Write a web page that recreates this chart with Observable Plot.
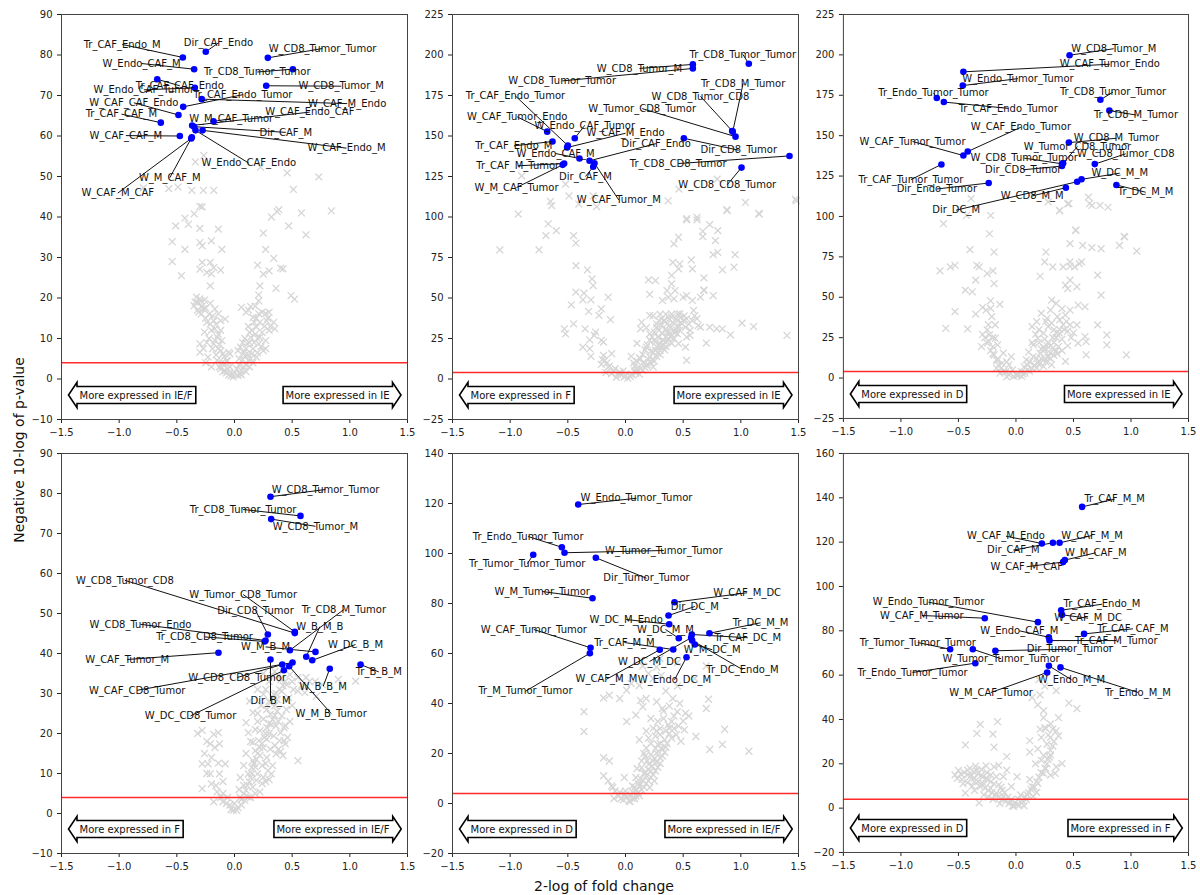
<!DOCTYPE html>
<html><head><meta charset="utf-8">
<script src="https://cdn.jsdelivr.net/npm/d3@7"></script>
<script src="https://cdn.jsdelivr.net/npm/@observablehq/plot@0.6"></script>
<style>
body{margin:0;background:#fff;font-family:"DejaVu Sans",sans-serif;}
#fig{position:relative;width:1200px;height:895px;overflow:hidden;background:#fff;}
.panel{position:absolute;}
.panel svg{overflow:visible;}
#ylab{position:absolute;left:19px;top:450px;transform:translate(-50%,-50%) rotate(-90deg);font-size:14px;white-space:nowrap;color:#111;}
#xlab{position:absolute;left:604px;top:886px;transform:translate(-50%,-50%);font-size:14px;white-space:nowrap;color:#111;}
</style></head>
<body><div id="fig"><div id="ylab">Negative 10-log of p-value</div><div id="xlab">2-log of fold change</div></div>
<script>
// ---------- data ----------
const xTickValues = [-1.5, -1, -0.5, 0, 0.5, 1, 1.5];
const yTicks1 = [-10, 0, 10, 20, 30, 40, 50, 60, 70, 80, 90];
const yTicks2 = [-25, 0, 25, 50, 75, 100, 125, 150, 175, 200, 225];
const yTicks3 = [-25, 0, 25, 50, 75, 100, 125, 150, 175, 200, 225];
const yTicks4 = [-10, 0, 10, 20, 30, 40, 50, 60, 70, 80, 90];
const yTicks5 = [-20, 0, 20, 40, 60, 80, 100, 120, 140];
const yTicks6 = [-20, 0, 20, 40, 60, 80, 100, 120, 140, 160];
const threshold = 4;
const arrowLeft = ["More expressed in IE/F", "More expressed in F", "More expressed in D", "More expressed in F", "More expressed in D", "More expressed in D"];
const arrowRight = ["More expressed in IE", "More expressed in IE", "More expressed in IE", "More expressed in IE/F", "More expressed in IE/F", "More expressed in F"];

// labelled interactions: [name, x, y, labelX, labelY]
const lab1 = [
 ["Tr_CAF_Endo_M", -0.448, 79.4, -0.974, 82.6],
 ["Dir_CAF_Endo", -0.249, 80.8, -0.139, 83.0],
 ["W_CD8_Tumor_Tumor", 0.289, 79.3, 0.763, 81.6],
 ["W_Endo_CAF_M", -0.35, 76.5, -0.806, 77.9],
 ["Tr_CD8_Tumor_Tumor", 0.506, 76.5, 0.197, 75.8],
 ["Tr_CAF_CAF_Endo", -0.67, 74.0, -0.474, 72.4],
 ["W_Endo_CAF_Tumor", -0.344, 71.9, -0.786, 71.4],
 ["W_CD8_Tumor_M", 0.275, 72.4, 0.925, 72.3],
 ["Tr_CAF_Endo_Tumor", -0.445, 67.2, 0.072, 70.2],
 ["W_CAF_M_Endo", -0.284, 69.1, 0.977, 68.0],
 ["W_CAF_CAF_Endo", -0.486, 65.2, -0.873, 68.2],
 ["Tr_CAF_CAF_M", -0.639, 63.3, -0.98, 65.4],
 ["W_M_CAF_Tumor", -0.182, 63.6, -0.029, 64.3],
 ["W_CAF_Endo_CAF", -0.367, 62.6, 0.653, 65.9],
 ["Dir_CAF_M", -0.35, 62.3, 0.445, 60.9],
 ["W_CAF_CAF_M", -0.474, 60.0, -0.942, 60.1],
 ["W_CAF_Endo_M", -0.277, 61.4, 0.971, 57.0],
 ["W_Endo_CAF_Endo", -0.338, 61.4, 0.124, 53.3],
 ["W_M_CAF_M", -0.37, 59.7, -0.561, 49.7],
 ["W_CAF_M_CAF", -0.375, 59.4, -1.012, 45.9]
];
const lab2 = [
 ["W_CD8_Tumor_M", 0.584, 194.2, 0.121, 191.7],
 ["W_CD8_Tumor_Tumor", 0.584, 191.7, -0.549, 184.0],
 ["Tr_CD8_Tumor_Tumor", 1.069, 194.6, 1.017, 200.4],
 ["Tr_CD8_M_Tumor", 0.93, 152.7, 1.02, 182.5],
 ["W_CD8_Tumor_CD8", 0.925, 153.1, 0.65, 174.5],
 ["W_Tumor_CD8_Tumor", 0.954, 149.6, 0.145, 166.9],
 ["Tr_CAF_Endo_Tumor", -0.5, 144.1, -0.954, 174.7],
 ["W_CAF_Tumor_Endo", -0.679, 152.7, -0.939, 161.8],
 ["W_Endo_CAF_Tumor", -0.44, 148.6, -0.353, 156.6],
 ["Tr_CAF_Endo_M", -0.633, 146.6, -0.968, 143.9],
 ["W_CAF_M_Endo", -0.506, 142.9, 0.0, 151.7],
 ["W_Endo_CAF_M", -0.399, 136.1, -0.607, 139.2],
 ["Dir_CAF_Endo", -0.312, 134.7, 0.266, 145.3],
 ["Dir_CD8_Tumor", 0.506, 148.6, 0.982, 141.2],
 ["Tr_CD8_CD8_Tumor", 1.422, 137.7, 0.457, 133.0],
 ["W_CD8_CD8_Tumor", 1.006, 130.5, 0.882, 119.9],
 ["Tr_CAF_M_Tumor", -0.532, 133.0, -0.934, 131.6],
 ["W_M_CAF_Tumor", -0.545, 132.2, -0.945, 118.2],
 ["Dir_CAF_M", -0.28, 131.0, -0.347, 125.0],
 ["W_CAF_Tumor_M", -0.269, 133.2, -0.058, 110.5]
];
const lab3 = [
 ["W_CD8_Tumor_M", 0.466, 199.8, 0.85, 203.8],
 ["W_CAF_Tumor_Endo", -0.457, 189.5, 0.815, 194.2],
 ["W_Endo_Tumor_Tumor", -0.462, 181.0, 0.017, 185.3],
 ["Tr_Endo_Tumor_Tumor", -0.688, 173.3, -0.717, 176.5],
 ["Tr_CAF_Endo_Tumor", -0.627, 170.8, -0.067, 166.9],
 ["Tr_CD8_Tumor_Tumor", 0.734, 172.2, 0.844, 177.0],
 ["Tr_CD8_M_Tumor", 0.812, 165.5, 1.043, 162.8],
 ["W_CAF_Endo_Tumor", -0.419, 140.2, 0.043, 155.2],
 ["W_CAF_Tumor_Tumor", -0.457, 137.7, -0.899, 146.4],
 ["Tr_CAF_Tumor_Tumor", -0.648, 132.2, -0.913, 122.8],
 ["Dir_Endo_Tumor", -0.237, 120.7, -0.688, 117.0],
 ["W_CD8_M_Tumor", 0.46, 145.7, 0.873, 148.4],
 ["W_Tumor_CD8_Tumor", 0.41, 133.0, 0.535, 143.3],
 ["W_CD8_Tumor_Tumor", 0.4, 132.6, 0.072, 136.1],
 ["Dir_CD8_Tumor", 0.4, 131.2, 0.063, 128.9],
 ["W_CD8_Tumor_CD8", 0.685, 132.4, 0.954, 138.8],
 ["W_DC_M_M", 0.57, 123.0, 0.902, 126.8],
 ["W_CD8_M_M", 0.434, 117.8, 0.141, 112.7],
 ["Dir_DC_M", 0.532, 121.5, -0.52, 103.9],
 ["Tr_DC_M_M", 0.873, 119.5, 1.127, 115.0]
];
const lab4 = [
 ["W_CD8_Tumor_Tumor", 0.312, 79.2, 0.789, 81.0],
 ["Tr_CD8_Tumor_Tumor", 0.572, 74.4, 0.075, 76.0],
 ["W_CD8_Tumor_M", 0.318, 73.6, 0.702, 71.8],
 ["W_CD8_Tumor_CD8", 0.523, 45.1, -0.951, 58.3],
 ["W_Tumor_CD8_Tumor", 0.523, 45.4, 0.075, 54.75],
 ["Dir_CD8_Tumor", 0.289, 44.75, 0.182, 50.8],
 ["Tr_CD8_M_Tumor", 0.48, 40.8, 0.948, 51.0],
 ["W_CD8_Tumor_Endo", 0.269, 43.25, -0.815, 47.3],
 ["W_B_M_B", 0.622, 39.2, 0.74, 46.7],
 ["Tr_CD8_CD8_Tumor", 0.262, 43.0, -0.26, 44.15],
 ["W_M_B_M", 0.702, 40.4, 0.269, 41.65],
 ["W_DC_B_M", 0.674, 38.3, 1.049, 42.25],
 ["W_CAF_Tumor_M", -0.139, 40.2, -0.93, 38.5],
 ["W_CD8_CD8_Tumor", 0.414, 37.25, 0.023, 34.0],
 ["W_CAF_CD8_Tumor", 0.503, 37.75, -0.844, 30.8],
 ["Tr_B_B_M", 1.093, 37.25, 1.251, 35.4],
 ["W_B_B_M", 0.826, 36.2, 0.769, 31.8],
 ["Dir_B_M", 0.312, 38.5, 0.312, 28.15],
 ["W_DC_CD8_Tumor", 0.428, 35.8, -0.381, 24.4],
 ["W_M_B_Tumor", 0.474, 36.8, 0.838, 25.0]
];
const lab5 = [
 ["W_Endo_Tumor_Tumor", -0.41, 119.6, 0.095, 122.1],
 ["Tr_Endo_Tumor_Tumor", -0.552, 102.5, -0.844, 106.8],
 ["W_Tumor_Tumor_Tumor", -0.529, 100.3, 0.332, 101.2],
 ["Tr_Tumor_Tumor_Tumor", -0.8, 99.5, -0.852, 95.9],
 ["Dir_Tumor_Tumor", -0.257, 98.3, 0.182, 90.1],
 ["W_M_Tumor_Tumor", -0.286, 82.1, -0.722, 84.8],
 ["W_CAF_M_DC", 0.425, 80.5, 1.055, 84.3],
 ["Dir_DC_M", 0.373, 75.2, 0.601, 78.8],
 ["W_DC_M_Endo", 0.379, 71.7, 0.006, 73.6],
 ["W_DC_M_M", 0.462, 66.1, 0.347, 69.6],
 ["Tr_DC_M_M", 0.728, 68.1, 1.171, 72.3],
 ["Tr_CAF_DC_M", 0.575, 67.6, 1.06, 66.3],
 ["W_M_DC_M", 0.601, 63.6, 0.752, 61.5],
 ["Tr_DC_Endo_M", 0.578, 65.2, 1.014, 53.6],
 ["Tr_CAF_M_M", 0.414, 61.6, -0.009, 64.4],
 ["W_DC_M_DC", 0.569, 66.3, 0.208, 56.8],
 ["W_CAF_M_M", 0.297, 61.5, -0.165, 49.7],
 ["W_Endo_DC_M", 0.529, 58.5, 0.425, 49.5],
 ["W_CAF_Tumor_Tumor", -0.303, 62.3, -0.795, 69.6],
 ["Tr_M_Tumor_Tumor", -0.309, 60.1, -0.867, 44.9]
];
const lab6 = [
 ["Tr_CAF_M_M", 0.575, 135.9, 0.858, 139.4],
 ["W_CAF_M_Endo", 0.225, 119.4, -0.087, 122.7],
 ["W_CAF_M_M", 0.379, 119.7, 0.662, 123.0],
 ["Dir_CAF_M", 0.321, 119.7, -0.023, 116.4],
 ["W_M_CAF_M", 0.425, 111.9, 0.694, 115.2],
 ["W_CAF_M_CAF", 0.41, 111.0, 0.093, 108.9],
 ["Tr_CAF_Endo_M", 0.393, 89.3, 0.748, 92.0],
 ["W_CAF_M_DC", 0.401, 87.2, 0.627, 85.7],
 ["W_Endo_Tumor_Tumor", 0.191, 83.9, -0.76, 92.9],
 ["W_CAF_M_Tumor", -0.271, 85.7, -0.818, 86.9],
 ["W_Endo_CAF_M", 0.286, 77.1, 0.029, 80.0],
 ["Tr_CAF_CAF_M", 0.592, 78.6, 1.017, 80.9],
 ["Tr_CAF_M_Tumor", 0.292, 75.6, 0.873, 75.6],
 ["Tr_Tumor_Tumor_Tumor", -0.572, 71.7, -0.853, 74.7],
 ["W_Tumor_Tumor_Tumor", -0.375, 71.7, -0.13, 67.4],
 ["Dir_Tumor_Tumor", -0.179, 71.0, 0.468, 71.7],
 ["Tr_Endo_Tumor_Tumor", -0.353, 65.4, -0.899, 61.2],
 ["W_Endo_M_M", 0.286, 64.2, 0.483, 57.9],
 ["Tr_Endo_M_M", 0.387, 63.5, 1.06, 52.2],
 ["W_M_CAF_Tumor", 0.271, 61.2, -0.217, 52.2]
];

// background (non-labelled) interactions: [log2 fold change, -log10 p]
const bg1 = [[-0.49,47.4],[-0.57,47],[-0.37,46.6],[-0.27,46.6],[-0.18,46.6],[-0.79,47.2],[0.51,46.8],[0.84,41.5],[0.58,41],[0.47,37.8],[0.62,35.6],[0.37,41.3],[0.32,40],[0.25,36],[0.27,32],[0.34,29.8],[0.2,28.1],[0.3,26.7],[0.25,25.9],[0.4,27.4],[0.42,27.2],[0.36,22.4],[0.49,20.6],[0.52,19.7],[0.22,23],[0.21,20.8],[0.21,19.3],[-0.28,42.5],[-0.35,40.8],[-0.43,39.7],[-0.51,37.8],[-0.4,38.2],[-0.3,37.2],[-0.14,37],[-0.54,33.9],[-0.43,32],[-0.3,33.7],[-0.28,32.9],[-0.2,34.1],[-0.11,32],[-0.54,29],[-0.46,25.5],[-0.28,28.8],[-0.21,28.8],[-0.3,27.1],[-0.24,26.3],[-0.18,27.5],[-0.12,26.9],[-0.2,26],[-0.21,23],[-0.33,20.2],[-0.29,19.3],[-0.35,18.1],[-0.27,17.3],[-0.31,16.5],[-0.32,18.8],[-0.3,19.8],[-0.21,18.7],[-0.17,17.3],[-0.14,16.1],[-0.18,14.4],[-0.12,14.4],[-0.08,14.8],[-0.21,13.6],[-0.17,12.4],[-0.12,12],[-0.26,11.6],[-0.15,10.3],[-0.11,9.5],[-0.18,8.7],[-0.3,8.7],[-0.3,6.6],[-0.14,7.5],[-0.1,6.2],[-0.05,6.6],[-0.23,5.4],[-0.15,4.6],[-0.09,3.9],[-0.04,3],[-0.12,2.5],[-0.07,1.5],[-0.01,0.5],[0.03,0.9],[0.06,2.1],[0.1,3.4],[0.12,4.6],[0.09,5.8],[0.15,6.2],[0.19,5.4],[0.16,7.5],[0.11,8.7],[0.21,8.7],[0.25,7],[0.14,10.3],[0.18,11.1],[0.22,10.3],[0.19,12.8],[0.06,17.7],[0.14,17.9],[0.21,16.1],[0.1,16.5],[0.16,15.2],[0.27,16.2],[0.3,16.5],[0.28,14.4],[0.34,14],[0.35,12.4],[0.27,9.5],[0.27,7.5],[0.03,7],[0.05,7.9],[-0.04,6.2],[-0.266,55.2],[-0.34,53.6],[0.225,52.3],[0.457,50.9],[0.731,49.9],[-0.3,42.6],[0.384,41.8],[-0.08,2],[0.0,1.5],[0.05,1.2],[-0.03,0.8],[0.08,3],[-0.06,4.5],[0.13,9],[0.2,6.5],[-0.22,10],[-0.25,15],[0.3,12],[0.12,13],
 [-0.32,17],[-0.28,18],[-0.26,19.5],[-0.34,19],[-0.29,16],[-0.25,17.5],[-0.22,16],[-0.24,14],[-0.19,15.5],[-0.2,12],[-0.16,13.5],[-0.14,11],[-0.17,9.5],[-0.13,8.5],[-0.12,7],[-0.09,5.5],[-0.07,4.5],[-0.11,4],[-0.06,2.5],[-0.02,1.2],[-0.05,1],[-0.1,1.8],[-0.13,3],[-0.16,6],[-0.19,7.5],[-0.24,9],[-0.27,7.5],[-0.25,4],[-0.2,3],[0.02,2.5],[0.04,3.5],[0.07,4.8],[0.08,6.5],[0.1,7.5],[0.12,6],[0.14,5],[0.16,4],[0.13,3],[0.1,1.8],[0.06,1],[0.17,9],[0.2,10],[0.23,8],[0.24,11.5],[0.26,13],[0.22,14],[0.19,15],[0.17,14],[0.15,12],[0.13,11.5],[0.09,10],[0.07,9],[0.04,5],[0.24,16.5],[0.29,15],[0.31,13],[0.18,18],[0.12,17]];
const bg2 = [[-1.09,79.7],[-0.93,101.8],[-0.75,79.7],[-0.67,95.7],[-0.69,88.5],[-0.6,91.6],[-0.64,107],[-0.45,88.5],[-0.43,83.8],[-0.43,70],[-0.33,67.4],[-0.29,61.8],[-0.28,57.7],[-0.43,53.6],[-0.36,53],[-0.37,48.9],[-0.3,48.9],[-0.47,45.8],[-0.32,41.7],[-0.21,43.3],[-0.15,50.5],[-0.23,39.2],[-0.13,36.6],[-0.45,34.1],[-0.53,31],[-0.52,27.9],[-0.35,31],[-0.26,29],[-0.27,26.9],[-0.31,24.2],[-0.21,23.8],[-0.19,22.8],[-0.37,19.7],[-0.31,18.7],[-0.3,14],[-0.19,14.6],[-0.12,15.6],[-0.18,11.5],[-0.21,9],[-0.15,7.4],[-0.09,6.4],[-0.05,4.3],[-0.12,3.3],[-0.01,1.2],[0.04,1.6],[0.09,3.7],[0.13,6.4],[0.18,8.4],[0.24,7.4],[0.07,9.9],[0.13,12.5],[0.21,13.6],[0.24,16.6],[0.3,19.7],[0.18,19.7],[0.26,22.8],[0.33,23.8],[0.39,25.9],[0.45,27.9],[0.36,29],[0.29,30],[0.21,27.9],[0.27,34.1],[0.33,36.1],[0.4,38.2],[0.47,40.2],[0.45,36.1],[0.53,37.2],[0.52,32],[0.53,25.9],[0.52,19.7],[0.53,11.5],[0.46,21.8],[0.59,42.3],[0.62,37.2],[0.56,30],[0.65,32],[0.73,32],[0.79,31],[0.84,31],[0.7,22.2],[0.91,27.3],[1.01,34.5],[1.11,32.4],[1.4,26.9],[0.18,31.6],[0.13,31],[0.32,48.5],[0.37,50.5],[0.43,54.6],[0.36,54.6],[0.42,49.5],[0.5,50.5],[0.53,51.5],[0.58,48.5],[0.65,50.5],[0.68,54.6],[0.76,51.5],[0.4,63.9],[0.4,58.7],[0.46,68],[0.47,71],[0.41,72],[0.58,68],[0.57,73.5],[0.68,62.4],[0.68,55],[0.2,61.2],[0.26,60.8],[0.21,52.2],[0.21,39.2],[0.42,83.4],[0.46,87.5],[0.53,98.2],[0.62,98.2],[0.73,95.3],[0.67,91.2],[0.67,87.9],[0.8,91.6],[0.76,76.8],[0.8,78.2],[0.78,85.4],[0.84,67.4],[0.95,76.8],[0.94,69],[0.88,104],[1.04,109],[1.16,101.8],[1.48,110],[0.37,110],[-0.25,106.4],[-0.9,125.4],[-0.65,109.6],[-0.52,120.3],[-0.49,113],[-0.405,108],[-0.28,113],[0.463,117.2],[0.795,123.4],[0.88,104.5],[1.156,102.2],[1.474,111],[0.62,99.8],[0.53,99],[0.28,26],[0.32,28],[0.35,31],[0.25,24],[0.3,22],[0.35,26],[0.38,33],[0.42,30],[0.22,17],[0.27,20],[0.15,10],[0.1,6],[0.2,12],[0.3,15],[0.34,18],[0.4,22],[0.45,32],[0.48,35],[0.38,37],[0.31,33],[0.05,3],[0.0,2],[-0.04,2.5],[0.08,5],
 [0.02,0.5],[0.06,2.5],[0.1,4.5],[0.12,3],[0.15,5.5],[0.17,7],[0.19,9],[0.22,10],[0.23,12],[0.25,11],[0.27,14],[0.28,16],[0.3,17.5],[0.31,20],[0.33,21],[0.35,20],[0.36,23],[0.37,25],[0.4,27],[0.42,25],[0.43,28.5],[0.44,30.5],[0.46,33],[0.47,30],[0.49,34],[0.5,36],[0.51,39],[0.48,38],[0.44,37],[0.41,35],[0.39,32],[0.36,34],[0.34,36],[0.31,37],[0.29,36],[0.27,32],[0.25,29],[0.23,26],[0.21,24],[0.19,21],[0.17,18],[0.15,15],[0.12,13],[0.1,11],[0.08,8],[0.26,18],[0.32,24],[0.38,29],[0.55,34],[0.58,36],[0.6,39],[0.63,33],[0.56,27],[0.24,39],[0.3,40],[0.35,40],[0.4,40],[0.45,40],[0.14,35],[0.1,22],[0.05,14],[-0.02,5],[-0.07,3],[-0.1,5],[-0.14,8],[-0.16,10],[-0.2,12],[-0.17,4],[-0.08,1]];
const bg3 = [[-0.63,95.5],[-0.22,100.6],[-0.23,89.3],[-0.43,100.6],[-0.4,79.5],[-0.19,78],[-0.66,66.3],[-0.57,68.8],[-0.53,69.8],[-0.34,69.8],[-0.32,68.8],[-0.25,64.7],[-0.2,66.3],[-0.35,60.6],[-0.19,58.5],[-0.44,54.4],[-0.38,53.4],[-0.53,41.1],[-0.61,30.8],[-0.42,30.4],[-0.35,39.6],[-0.29,43.7],[-0.26,42.1],[-0.22,47.8],[-0.22,43.1],[-0.21,38],[-0.14,45.6],[-0.18,32.9],[-0.25,29.8],[-0.23,26.7],[-0.18,24.6],[-0.3,19.5],[-0.25,21.6],[-0.2,19.5],[-0.16,20.5],[-0.11,15.4],[-0.04,13.3],[-0.19,14.4],[-0.17,11.3],[-0.12,9.2],[-0.06,8.2],[-0.17,6.2],[-0.11,4.1],[-0.05,3.1],[0.01,1.6],[0.06,2.5],[0.12,4.1],[0.18,6.2],[0.24,7.2],[0.31,8.2],[0.09,11.3],[0.15,13.3],[0.21,15.4],[0.25,17.5],[0.3,15.4],[0.32,18.5],[0.37,19.5],[0.43,10.3],[0.15,20.5],[0.19,24.6],[0.24,27.7],[0.28,31.8],[0.14,31.8],[0.18,34.9],[0.22,40],[0.27,37],[0.3,42.1],[0.35,46.2],[0.31,48.3],[0.38,36],[0.43,39],[0.38,27.7],[0.47,42.1],[0.47,32.9],[0.53,32.9],[0.54,45.2],[0.6,44.1],[0.61,22.6],[0.6,25.7],[0.54,21.6],[0.61,14.4],[0.71,32.9],[0.79,26.7],[0.79,20.5],[0.96,14.4],[0.74,51.3],[0.71,63.7],[0.53,56.5],[0.45,55.4],[0.43,57.5],[0.47,60.6],[0.41,68.8],[0.47,69.2],[0.47,71.9],[0.51,68.8],[0.55,70.8],[0.57,71.9],[0.32,68.8],[0.25,71.9],[0.26,78],[0.21,63],[0.47,83.2],[0.58,82.1],[0.66,80.7],[0.74,80.1],[0.52,91.4],[0.9,82.1],[0.94,87.7],[1.05,78.6],[0.38,103.7],[0.45,107.8],[0.73,106.8],[0.8,105.7],[0.66,106.8],[-0.39,111],[0.28,109],[0.38,103.5],[0.46,108],[0.52,91.6],[0.63,112],[0.64,108],[0.945,87.4],[0.2,10],[0.25,12],[0.28,14],[0.33,22],[0.35,25],[0.4,24],[0.42,30],[0.27,20],[0.22,18],[0.1,8],[0.05,4],[0.0,2],[-0.03,5],[-0.08,10],[0.36,15],[0.44,35],[0.4,43],[0.33,30],
 [0.02,2],[0.05,1],[0.08,3],[0.1,5],[0.14,6],[0.16,8],[0.2,8.5],[0.22,12],[0.26,10],[0.28,13],[0.3,12],[0.33,14],[0.35,17],[0.3,20],[0.28,22],[0.32,25],[0.35,28],[0.38,30],[0.25,24],[0.2,22],[0.24,19],[0.4,17],[0.45,20],[0.48,25],[0.5,28],[0.45,29],[0.41,33],[0.36,38],[0.31,34],[0.26,35],[0.2,30],[0.17,27],[0.14,22],[0.11,16],[0.07,7],[0.18,12],[0.12,10],[-0.02,1],[-0.06,2],[-0.09,4],[-0.13,6],[-0.15,8],[-0.16,11],[-0.2,15],[-0.22,17],[-0.24,23],[-0.2,25],[-0.27,25],[-0.29,27],[-0.24,33],[-0.14,3],[-0.08,0.8]];
const bg4 = [[-0.28,20.8],[-0.18,19.8],[-0.14,20.2],[-0.21,17.4],[-0.17,16.5],[-0.13,17.4],[-0.28,12.4],[-0.23,12.4],[-0.14,12.6],[-0.08,12.4],[-0.21,9.9],[-0.13,9.9],[-0.28,6.2],[-0.2,7.4],[-0.15,5.4],[-0.1,5],[-0.18,2.9],[-0.1,2.9],[-0.04,2.1],[-0.01,0.8],[0.02,0.8],[0.06,2.1],[0.09,3.3],[0.12,4.1],[0.1,5.8],[0.16,6.6],[0.13,7.9],[0.19,8.3],[0.12,9.9],[0.2,9.9],[0.25,9.1],[0.18,11.6],[0.24,12],[0.29,10.7],[0.32,9.9],[0.16,13.2],[0.22,14.5],[0.28,14],[0.18,15.7],[0.25,16.5],[0.31,16.1],[0.36,14.9],[0.42,14.5],[0.21,18.2],[0.28,18.6],[0.34,19.4],[0.39,18.2],[0.44,17.4],[0.22,20.7],[0.28,21.5],[0.32,22.3],[0.36,21.9],[0.4,20.2],[0.43,21.5],[0.25,23.6],[0.31,24.8],[0.37,25.6],[0.41,24.4],[0.16,25.2],[0.1,22.7],[0.12,20.2],[0.31,27.7],[0.37,28.5],[0.41,30.6],[0.47,28.9],[0.51,31],[0.45,32.2],[0.55,30.6],[0.61,30.2],[0.71,29.3],[0.76,32.2],[0.9,33.5],[1.05,33.1],[0.55,13.2],[0.43,18.2],[0.16,17.8],[0.22,5.4],[0.34,29.8],[0.48,34.7],[0.13,28.1],[0.25,29.8],[0.05,4],[0.08,7],[0.15,10],[0.27,12.5],[0.35,17],[0.3,20],[0.2,23],[0.38,23],[0.45,26],[0.35,27],[0.0,2.5],[-0.06,4],[0.2,31],[0.3,33],[0.4,33.5],[0.55,34],[0.65,33],[0.25,35],[0.35,35.5],
 [0.03,1.5],[0.06,3.5],[0.08,5],[0.11,7],[0.14,9],[0.15,11.5],[0.17,12.5],[0.19,13.5],[0.2,15],[0.22,16.5],[0.24,17.5],[0.26,19],[0.27,20],[0.3,22.5],[0.33,23.5],[0.35,24.5],[0.28,26],[0.3,28],[0.33,29],[0.36,30],[0.39,31],[0.42,32],[0.44,33],[0.5,33],[0.58,32],[0.62,34],[0.7,33],[0.27,31],[0.23,27],[0.2,25],[0.18,21],[0.14,18],[0.1,15],[0.08,12],[0.05,9],[0.04,6],[0.14,4],[0.18,5],[0.24,7.5],[0.27,8],[0.3,8.5],[0.33,12],[0.38,16],[0.4,15.5],[0.46,19],[0.48,23],[0.5,27],[0.44,22],[-0.03,1],[-0.07,2.5],[-0.12,4],[-0.16,7],[-0.24,10],[-0.2,14],[-0.26,15],[-0.24,18],[-0.32,20],[-0.1,8],[0.33,34.5],[0.38,34.5]];
const bg5 = [[-0.36,36.7],[-0.36,28.8],[-0.19,42.2],[-0.14,43.3],[-0.19,18.3],[-0.14,17],[-0.19,11.1],[-0.11,6.4],[-0.01,10.4],[-0.05,4.5],[0.01,2.5],[0.05,3.2],[0.09,5.1],[0.12,7.1],[0.15,9.1],[0.09,10.4],[0.18,11.1],[0.14,14.3],[0.2,15.7],[0.24,17],[0.17,18.9],[0.22,19.6],[0.27,20.3],[0.3,18.3],[0.21,6.4],[0.12,3.2],[0.18,22.2],[0.28,23.6],[0.32,21.6],[0.12,25.5],[0.2,26.2],[0.3,27.5],[0.34,25.5],[0.4,26.2],[0.44,27.5],[0.48,24.9],[0.38,30.1],[0.24,30.1],[0.28,32.8],[0.37,31.4],[0.4,32.8],[0.51,29.5],[0.61,26.8],[0.73,21.6],[0.84,23.6],[0.86,29.7],[1.07,20.9],[0.45,36.7],[0.52,36.1],[0.7,38],[0.72,41.7],[0.41,42],[0.47,40],[0.27,40.7],[0.32,38],[0.18,42],[0.15,38.7],[0.01,45.3],[0.12,47.2],[0.24,49.9],[0.31,51.2],[0.27,54.5],[0.45,56.4],[-0.05,42],[0.09,35.4],[0.01,32.8],[0.13,41.2],[0.05,48],[0.2,52],[0.35,45],[0.45,47],[0.15,55],[0.6,50],[0.7,55],[-0.05,50],[0.3,58],[0.1,14],[0.16,12],[0.22,13],[0.25,9],[0.06,7],[0.0,5],[-0.04,2],[0.04,0.8],[0.08,2],[0.3,24],[0.35,29],[0.26,27],[0.33,34],[0.42,35],[0.22,34],[0.18,29],
 [0.03,1],[0.06,2],[0.09,3],[0.11,4.5],[0.14,5.5],[0.16,6.5],[0.18,8],[0.2,9],[0.22,10.5],[0.24,11.5],[0.26,13],[0.28,14.5],[0.3,16],[0.27,16.5],[0.25,18],[0.23,15],[0.2,13.5],[0.17,12.5],[0.13,10],[0.11,8],[0.08,6.5],[0.06,4.5],[0.32,19],[0.34,20.5],[0.35,22.5],[0.36,24],[0.31,22],[0.26,22],[0.22,24],[0.16,20],[0.14,17],[0.19,17],[0.38,28],[0.42,30],[0.46,31],[0.5,33],[0.55,35],[0.3,30],[0.27,29],[0.33,37],[0.38,39],[-0.02,1.5],[-0.06,3],[-0.09,5],[-0.12,7],[-0.15,9],[-0.1,2],[0.0,3.5]];
const bg6 = [[0.14,49.9],[0.19,46.6],[0.46,47.4],[0.53,44.9],[0.21,51.1],[-0.16,39],[-0.31,37.8],[-0.34,33.7],[-0.2,33.4],[-0.44,28.5],[-0.19,27.5],[-0.08,23.3],[-0.15,19.3],[-0.26,19.1],[-0.34,17.1],[-0.42,17.1],[-0.48,15.4],[-0.51,13.4],[-0.4,14.2],[-0.3,14.9],[-0.24,12.7],[-0.17,14.2],[-0.44,6.8],[-0.31,9.7],[-0.22,9],[-0.32,2.4],[-0.17,6.8],[-0.11,5.3],[-0.05,3.1],[0.01,1.6],[0.05,2.4],[0.09,3.8],[0.15,5.3],[0.18,7.1],[0.14,9.7],[0.19,11.2],[0.24,15.7],[0.3,14.9],[0.34,15.7],[0.35,18.6],[0.26,17.9],[0.22,21.6],[0.29,23],[0.4,20.1],[0.12,25.3],[0.19,26.7],[0.24,23.8],[0.3,31.9],[0.27,28.9],[0.21,35.6],[0.22,31.9],[0.25,36.3],[0.32,35.6],[0.35,34.9],[0.37,32.6],[0.24,40.8],[0.37,40.8],[0.12,30.4],[0.01,14.2],[-0.04,9.7],[-0.11,14.2],[-0.19,18.6],[-0.08,17.1],[0.25,55],[0.35,53],[0.2,58],[-0.36,12],[-0.28,6],[-0.2,4],[-0.12,8],[-0.38,10],[-0.46,11],[-0.25,16],[0.1,6],[0.07,1],[-0.02,0.8],[0.12,13],[0.17,20],[0.3,26],
 [-0.03,1],[-0.06,2],[-0.09,3],[-0.12,4],[-0.15,5],[-0.18,6],[-0.21,7],[-0.24,8],[-0.27,9],[-0.3,11],[-0.33,12],[-0.36,13.5],[-0.39,14.5],[-0.42,15],[-0.45,16],[-0.37,16.5],[-0.33,15.5],[-0.29,14],[-0.26,13.5],[-0.22,12],[-0.19,11],[-0.15,10.5],[-0.13,9.5],[-0.1,7],[-0.07,5],[-0.04,4],[-0.01,2.5],[0.03,1.5],[0.06,3],[0.08,5],[0.11,7],[0.13,8.5],[0.16,9.5],[0.18,12],[0.2,14],[0.22,16],[0.25,18],[0.27,20],[0.28,22],[0.3,24],[0.32,28],[0.33,30],[0.28,33],[0.26,36],[0.3,38],[0.24,44],[-0.5,17],[-0.47,13],[-0.53,15],[-0.4,18],[-0.35,19],[-0.3,17.5],[-0.22,15],[-0.28,11],[-0.42,11.5],[-0.36,8],[-0.24,5],[-0.14,2],[0.02,4],[0.04,6]];

// ---------- layout ----------
const panels = [
  {bg: bg1, labs: lab1, yTicks: yTicks1, col: 0, row: 0, left: arrowLeft[0], right: arrowRight[0]},
  {bg: bg2, labs: lab2, yTicks: yTicks2, col: 1, row: 0, left: arrowLeft[1], right: arrowRight[1]},
  {bg: bg3, labs: lab3, yTicks: yTicks3, col: 2, row: 0, left: arrowLeft[2], right: arrowRight[2]},
  {bg: bg4, labs: lab4, yTicks: yTicks4, col: 0, row: 1, left: arrowLeft[3], right: arrowRight[3]},
  {bg: bg5, labs: lab5, yTicks: yTicks5, col: 1, row: 1, left: arrowLeft[4], right: arrowRight[4]},
  {bg: bg6, labs: lab6, yTicks: yTicks6, col: 2, row: 1, left: arrowLeft[5], right: arrowRight[5]}
];
const colLeft = [61, 452, 843];
const rowTop = [14, 453];
const rowH = [405, 400];
const FW = 346, ML = 45, MR = 12, MT = 10, MB = 28;
const fig = document.getElementById("fig");

function toLocal(el, x, y) {
  const m = el.getScreenCTM().inverse();
  const p = new DOMPoint(x, y).matrixTransform(m);
  return [p.x, p.y];
}

panels.forEach(p => {
  const h = rowH[p.row];
  const yDom = [p.yTicks[0], p.yTicks[p.yTicks.length - 1]];
  const plot = Plot.plot({
    width: ML + FW + MR, height: MT + h + MB,
    marginLeft: ML, marginRight: MR, marginTop: MT, marginBottom: MB,
    style: {fontFamily: "DejaVu Sans", fontSize: "10px", color: "#222", background: "transparent", overflow: "visible"},
    x: {domain: [-1.5, 1.5], ticks: xTickValues, tickFormat: d3.format(".1f"), tickSize: 4, label: null},
    y: {domain: yDom, ticks: p.yTicks, tickFormat: d3.format("d"), tickSize: 4, label: null},
    marks: [
      Plot.dot(p.bg, {x: d => d[0], y: d => d[1], symbol: "times", r: 3.2, stroke: "#d6d6d6", strokeWidth: 1.3}),
      Plot.ruleY([threshold], {stroke: "#ff2a2a", strokeWidth: 1.5}),
      Plot.link(p.labs, {x1: d => d[1], y1: d => d[2], x2: d => d[3], y2: d => d[4], stroke: "#111", strokeWidth: 1, ariaLabel: "leaders"}),
      Plot.dot(p.labs, {x: d => d[1], y: d => d[2], fill: "#0000ff", r: 3.3, ariaLabel: "hits"}),
      Plot.text(p.labs, {x: d => d[3], y: d => d[4], text: d => d[0], fontSize: 10, fill: "#111", ariaLabel: "labels"}),
      Plot.text([p.left], {frameAnchor: "bottom-left", dx: 18, dy: -21, textAnchor: "start", fontSize: 10, fill: "#111"}),
      Plot.text([p.right], {frameAnchor: "bottom-right", dx: -18, dy: -21, textAnchor: "end", fontSize: 10, fill: "#111"}),
      Plot.frame({stroke: "#444", strokeWidth: 1})
    ]
  });
  const div = document.createElement("div");
  div.className = "panel";
  div.style.left = (colLeft[p.col] - ML) + "px";
  div.style.top = (rowTop[p.row] - MT) + "px";
  div.appendChild(plot);
  fig.appendChild(div);

  // clip leader lines at the label boxes
  try {
    const texts = plot.querySelectorAll('g[aria-label="labels"] text');
    const paths = plot.querySelectorAll('g[aria-label="leaders"] path');
    paths.forEach((path, j) => {
      const nums = (path.getAttribute("d") || "").match(/-?\d*\.?\d+(e[-+]?\d+)?/gi);
      if (!nums || !texts[j]) return;
      const px = +nums[0], py = +nums[1];
      const r = texts[j].getBoundingClientRect();
      const a = toLocal(path, r.left, r.top), b = toLocal(path, r.right, r.bottom);
      const cx = (a[0] + b[0]) / 2, cy = (a[1] + b[1]) / 2;
      const hw = Math.abs(b[0] - a[0]) / 2 + 2, hh = Math.abs(b[1] - a[1]) / 2 + 0.5;
      const dx = px - cx, dy = py - cy;
      const t = Math.min(dx ? hw / Math.abs(dx) : Infinity, dy ? hh / Math.abs(dy) : Infinity);
      if (t >= 0.97) { path.setAttribute("d", ""); return; }
      path.setAttribute("d", `M${px},${py}L${cx + dx * t},${cy + dy * t}`);
    });
  } catch (e) {}

  // arrow-shaped boxes around the two direction captions
  const allTexts = Array.from(plot.querySelectorAll("text"));
  [[p.left, -1], [p.right, 1]].forEach(([label, dir]) => {
    try {
      const t = allTexts.find(el => el.textContent === label && !el.closest('g[aria-label="labels"]'));
      if (!t) return;
      const g = t.parentNode;
      const r = t.getBoundingClientRect();
      const a = toLocal(g, r.left, r.top), b = toLocal(g, r.right, r.bottom);
      const x0 = Math.min(a[0], b[0]) - 2.5, x1 = Math.max(a[0], b[0]) + 3;
      const yc = (a[1] + b[1]) / 2, hb = 8.5, dxx = 4.2, tip = 8.5;
      let d;
      if (dir < 0) {
        d = "M" + x0 + "," + (yc - hb) + "L" + x1 + "," + (yc - hb) + "L" + x1 + "," + (yc + hb) + "L" + x0 + "," + (yc + hb) +
            "L" + x0 + "," + (yc + hb + dxx) + "L" + (x0 - tip) + "," + yc + "L" + x0 + "," + (yc - hb - dxx) + "Z";
      } else {
        d = "M" + x1 + "," + (yc - hb) + "L" + x0 + "," + (yc - hb) + "L" + x0 + "," + (yc + hb) + "L" + x1 + "," + (yc + hb) +
            "L" + x1 + "," + (yc + hb + dxx) + "L" + (x1 + tip) + "," + yc + "L" + x1 + "," + (yc - hb - dxx) + "Z";
      }
      const path = document.createElementNS("http://www.w3.org/2000/svg", "path");
      path.setAttribute("d", d);
      path.setAttribute("fill", "#fff");
      path.setAttribute("stroke", "#000");
      path.setAttribute("stroke-width", "1.6");
      g.insertBefore(path, t);
    } catch (e) {}
  });
});
</script>
</body></html>
